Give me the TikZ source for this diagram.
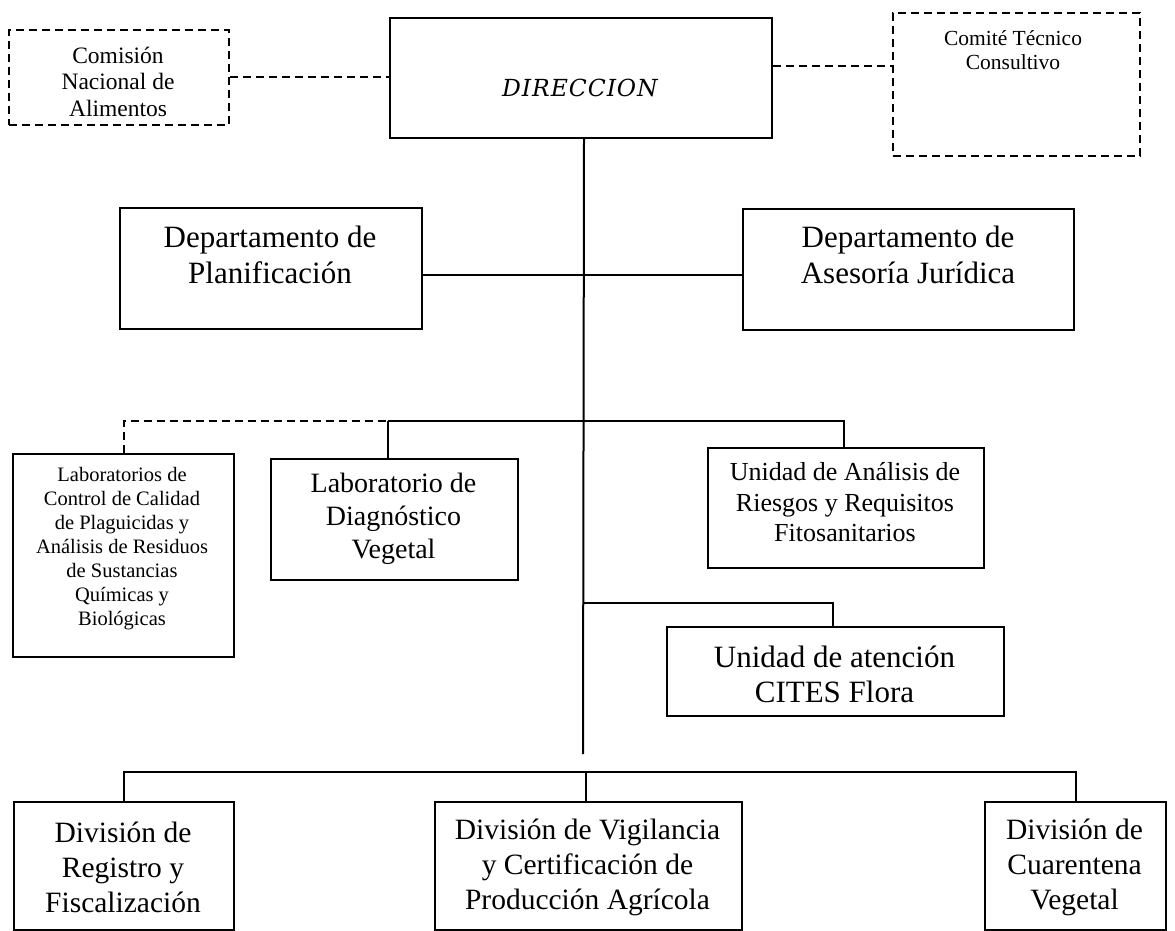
\documentclass[tikz,border=0pt]{standalone}
\usepackage{fontspec}
\usetikzlibrary{calc}
\setmainfont{Liberation Serif}
\newfontfamily\dirfont[LetterSpace=4]{DejaVu Serif}
\begin{document}
\begin{tikzpicture}[x=1pt,y=-1pt,
  box/.style={draw,line width=2pt,rectangle,inner sep=0pt},
  dbox/.style={box,dash pattern=on 8pt off 5pt},
  link/.style={line width=2pt},
  dlink/.style={line width=2pt,dash pattern=on 8pt off 5pt},
  txt/.style={align=center,inner sep=0pt}]
\useasboundingbox (0,0) rectangle (1175,931);
% boxes (corners in px)
\node[dbox,minimum width=220pt,minimum height=95pt,anchor=north west] (comis) at (8,29) {};
\node[box,minimum width=382pt,minimum height=120pt,anchor=north west] (dir) at (389,17) {};
\node[dbox,minimum width=247pt,minimum height=143pt,anchor=north west] (comite) at (892,12) {};
\node[box,minimum width=302pt,minimum height=121pt,anchor=north west] (plan) at (119,207) {};
\node[box,minimum width=331pt,minimum height=121pt,anchor=north west] (ases) at (742,208) {};
\node[box,minimum width=221pt,minimum height=203pt,anchor=north west] (lab) at (12,453) {};
\node[box,minimum width=247pt,minimum height=121pt,anchor=north west] (diag) at (270,458) {};
\node[box,minimum width=276pt,minimum height=120pt,anchor=north west] (ana) at (707,447) {};
\node[box,minimum width=337pt,minimum height=89pt,anchor=north west] (cites) at (666,626) {};
\node[box,minimum width=220pt,minimum height=128pt,anchor=north west] (reg) at (13,801) {};
\node[box,minimum width=307pt,minimum height=128pt,anchor=north west] (vig) at (434,801) {};
\node[box,minimum width=181pt,minimum height=128pt,anchor=north west] (cua) at (984,801) {};
% texts
\node[txt,font=\fontsize{23.5}{26.5}\selectfont] (comisT) at (118,81.5) {Comisión\\Nacional de\\Alimentos};
\node[txt,font=\fontsize{23.5}{26}\dirfont\itshape] (dirT) at (580,88) {DIRECCION};
\node[txt,font=\fontsize{21.5}{24}\selectfont] (comiteT) at (1013,50) {Comité Técnico\\Consultivo};
\node[txt,font=\fontsize{31}{36}\selectfont] (planT) at (270,255) {Departamento de\\Planificación};
\node[txt,font=\fontsize{31}{36}\selectfont] (asesT) at (908,255) {Departamento de\\Asesoría Jurídica};
\node[txt,font=\fontsize{20.5}{24}\selectfont] (labT) at (122,548.5) {Laboratorios de\\Control de Calidad\\de Plaguicidas y\\Análisis de Residuos\\de Sustancias\\Químicas y\\Biológicas};
\node[txt,font=\fontsize{28}{33}\selectfont] (diagT) at (393.5,519) {Laboratorio de\\Diagnóstico\\Vegetal};
\node[txt,font=\fontsize{26}{30.5}\selectfont] (anaT) at (845,502.5) {Unidad de Análisis de\\Riesgos y Requisitos\\Fitosanitarios};
\node[txt,font=\fontsize{31}{35}\selectfont] (citesT) at (834.5,674.5) {Unidad de atención\\CITES Flora};
\node[txt,font=\fontsize{29.5}{35}\selectfont] (regT) at (123,867) {División de\\Registro y\\Fiscalización};
\node[txt,font=\fontsize{29.5}{35}\selectfont] (vigT) at (587.5,867) {División de Vigilancia\\y Certificación de\\Producción Agrícola};
\node[txt,font=\fontsize{29.5}{35}\selectfont] (cuaT) at (1074.5,867) {División de\\Cuarentena\\Vegetal};
% helper coordinates
\coordinate (trunkend) at (583,754);
\coordinate (b1) at (0,421);
\coordinate (b2) at (0,603);
\coordinate (b3) at (0,772);
% connectors
\draw[dlink] (comis.east) -- (comis.east -| dir.west);
\coordinate (dirR) at ($(dir.north east)!0.4!(dir.south east)$);
\draw[dlink] (dirR) -- (dirR -| comite.west);
\draw[link] ([xshift=3pt]dir.south) -- (trunkend);
\coordinate (planR) at ($(plan.north east)!0.55!(plan.south east)$);
\draw[link] (planR) -- (planR -| ases.west);
\draw[dlink] (lab.north) -- (lab.north |- b1) -- ([xshift=-7pt]diag.north |- b1);
\draw[link] ([xshift=-7pt]diag.north |- b1) -- ([xshift=-2pt]ana.north |- b1) -- ([xshift=-2pt]ana.north);
\draw[link] ([xshift=-7pt]diag.north |- b1) -- ([xshift=-7pt]diag.north);
\draw[link] (trunkend |- b2) -- ([xshift=-2.5pt]cites.north |- b2) -- ([xshift=-2.5pt]cites.north);
\draw[link] (reg.north) -- (reg.north |- b3) -- (cua.north |- b3) -- (cua.north);
\draw[link] ([xshift=-2.5pt]vig.north |- b3) -- ([xshift=-2.5pt]vig.north);
\end{tikzpicture}
\end{document}
